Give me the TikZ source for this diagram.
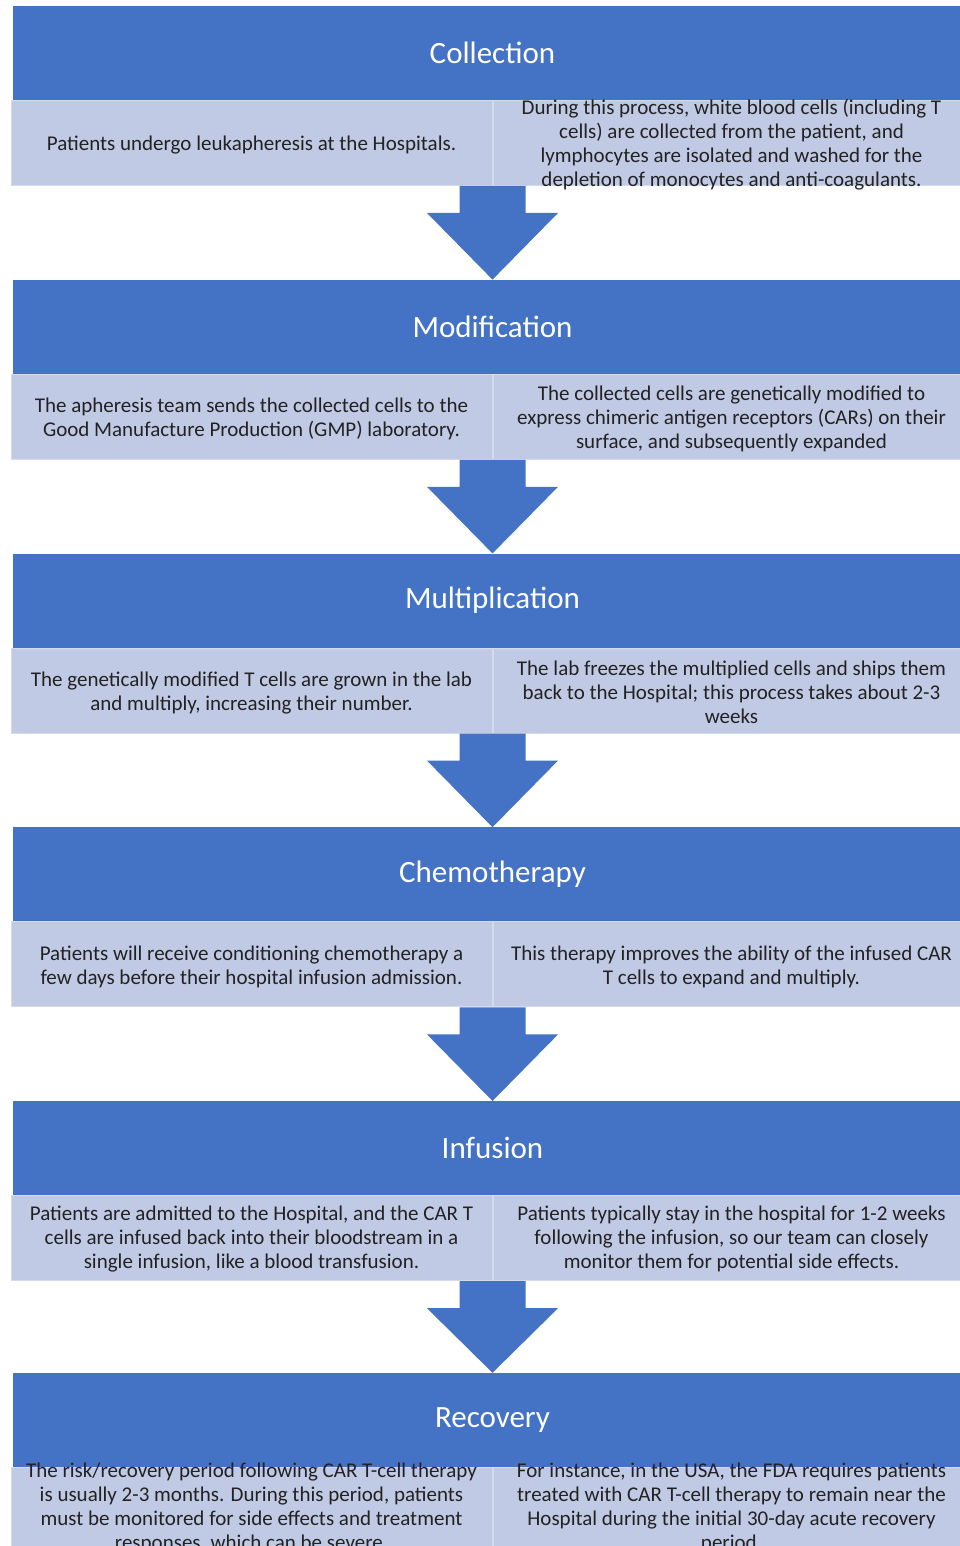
\documentclass[tikz,border=0pt]{standalone}
\usepackage{fontspec}
\setmainfont{Carlito}
\usetikzlibrary{%
  positioning,%
  calc%
}

\definecolor{headblue}{HTML}{4472C4}
\definecolor{boxblue}{HTML}{C1CAE5}
\definecolor{boxedge}{HTML}{D5DBEE}
\definecolor{bodytext}{HTML}{222222}

% block arrow from the bottom of a stage to the head of the next one
\newcommand{\stagearrow}[2]{%
  \fill[headblue] ([xshift=-33pt]#1.south east) -- ([xshift=-33pt,yshift=-27pt]#1.south east)
    -- ([xshift=-65.5pt,yshift=-27pt]#1.south east) -- (#1.south east |- #2.north)
    -- ([xshift=65.5pt,yshift=-27pt]#1.south east) -- ([xshift=33pt,yshift=-27pt]#1.south east)
    -- ([xshift=33pt]#1.south east) -- cycle;}

\begin{document}
\begin{tikzpicture}
[x=1pt, y=-1pt,
stagehead/.style={rectangle, fill=headblue, text=white, inner sep=0pt,
  minimum width=959pt, minimum height=94pt, font=\fontsize{31}{36}\selectfont},
leftbox/.style={rectangle, draw=boxedge, line width=1pt, fill=boxblue, inner sep=0pt,
  minimum width=481pt, minimum height=85pt},
rightbox/.style={rectangle, draw=boxedge, line width=1pt, fill=boxblue, inner sep=0pt,
  minimum width=480pt, minimum height=85pt},
boxtext/.style={align=center, inner sep=0pt, text=bodytext, font=\fontsize{21}{24}\selectfont}]

\useasboundingbox (0,0) rectangle (960,1546);
\clip (0,0) rectangle (960,1546);

% Collection
\node[stagehead] (h1) at (492.5,53) {Collection};
\node[leftbox] (l1) at (251.5,143) {};
\node[rightbox] (r1) at (733,143) {};
\node[boxtext] (l1t) at ([yshift=-2pt]l1.center) {Patients undergo leukapheresis at the Hospitals.};
\node[boxtext] (r1t) at ([xshift=-1.5pt,yshift=-2pt]r1.center) {During this process, white blood cells (including T\\cells) are collected from the patient, and\\lymphocytes are isolated and washed for the\\depletion of monocytes and anti-coagulants.};

% Modification
\node[stagehead] (h2) at (492.5,326.8) {Modification};
\node[leftbox] (l2) at (251.5,416.8) {};
\node[rightbox] (r2) at (733,416.8) {};
\node[boxtext] (l2t) at ([yshift=-2pt]l2.center) {The apheresis team sends the collected cells to the\\Good Manufacture Production (GMP) laboratory.};
\node[boxtext] (r2t) at ([xshift=-1.5pt,yshift=-2pt]r2.center) {The collected cells are genetically modified to\\express chimeric antigen receptors (CARs) on their\\surface, and subsequently expanded};

% Multiplication
\node[stagehead] (h3) at (492.5,600.6) {Multiplication};
\node[leftbox] (l3) at (251.5,690.6) {};
\node[rightbox] (r3) at (733,690.6) {};
\node[boxtext] (l3t) at ([yshift=-2pt]l3.center) {The genetically modified T cells are grown in the lab\\and multiply, increasing their number.};
\node[boxtext] (r3t) at ([xshift=-1.5pt,yshift=-2pt]r3.center) {The lab freezes the multiplied cells and ships them\\back to the Hospital; this process takes about 2-3\\weeks};

% Chemotherapy
\node[stagehead] (h4) at (492.5,874.4) {Chemotherapy};
\node[leftbox] (l4) at (251.5,964.4) {};
\node[rightbox] (r4) at (733,964.4) {};
\node[boxtext] (l4t) at ([yshift=-2pt]l4.center) {Patients will receive conditioning chemotherapy a\\few days before their hospital infusion admission.};
\node[boxtext] (r4t) at ([xshift=-1.5pt,yshift=-2pt]r4.center) {This therapy improves the ability of the infused CAR\\T cells to expand and multiply.};

% Infusion
\node[stagehead] (h5) at (492.5,1148.2) {Infusion};
\node[leftbox] (l5) at (251.5,1238.2) {};
\node[rightbox] (r5) at (733,1238.2) {};
\node[boxtext] (l5t) at ([yshift=-1pt]l5.center) {Patients are admitted to the Hospital, and the CAR T\\cells are infused back into their bloodstream in a\\single infusion, like a blood transfusion.};
\node[boxtext] (r5t) at ([xshift=-1.5pt,yshift=-1pt]r5.center) {Patients typically stay in the hospital for 1-2 weeks\\following the infusion, so our team can closely\\monitor them for potential side effects.};

% Recovery
\node[stagehead] (h6) at (492.5,1420) {Recovery};
\node[leftbox] (l6) at (251.5,1509.5) {};
\node[rightbox] (r6) at (733,1509.5) {};
\node[boxtext] (l6t) at ([yshift=1.5pt]l6.center) {The risk/recovery period following CAR T-cell therapy\\is usually 2-3 months. During this period, patients\\must be monitored for side effects and treatment\\responses, which can be severe.};
\node[boxtext] (r6t) at ([xshift=-1.5pt,yshift=1.5pt]r6.center) {For instance, in the USA, the FDA requires patients\\treated with CAR T-cell therapy to remain near the\\Hospital during the initial 30-day acute recovery\\period.};

% arrows
\stagearrow{l1}{h2}
\stagearrow{l2}{h3}
\stagearrow{l3}{h4}
\stagearrow{l4}{h5}
\stagearrow{l5}{h6}

\end{tikzpicture}
\end{document}
